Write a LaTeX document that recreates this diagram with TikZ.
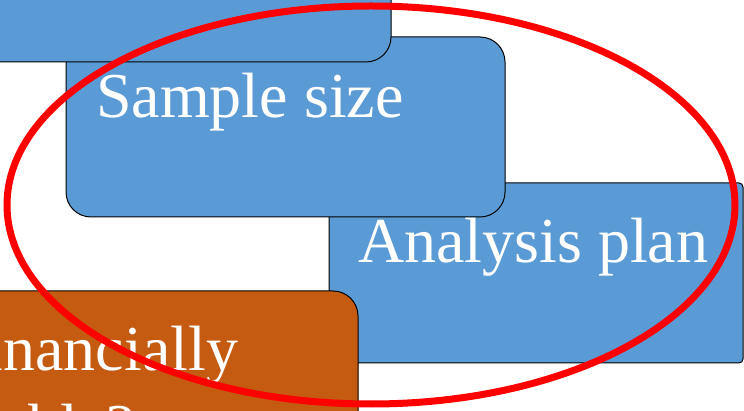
\documentclass[tikz,border=0pt]{standalone}
\usepackage{fontspec}
\setmainfont{Liberation Serif}
\usetikzlibrary{calc}
\definecolor{stepblue}{HTML}{5B9BD5}
\definecolor{steporange}{HTML}{C55A11}
\definecolor{ringred}{HTML}{FF0000}
\begin{document}
\begin{tikzpicture}[x=1pt,y=-1pt,
  stair/.style={draw=black, line width=1pt, rounded corners=25pt, inner sep=0pt,
    outer sep=0pt, anchor=north west, minimum width=439pt, minimum height=180pt},
  lbl/.style={text=white, font=\fontsize{64}{78}\selectfont, inner sep=0pt,
    anchor=base west, align=left}]
\useasboundingbox (0,0) rectangle (744,411);
\clip (0,0) rectangle (744,411);

% staircase of steps, lower ones first
\node[stair, fill=stepblue, minimum width=414pt, rounded corners=4pt] (analysis) at (329,183) {};
\node[stair, fill=stepblue] (sample) at (66,37) {};
\node[stair, fill=stepblue] (top) at (-48,-118) {};
\node[stair, fill=steporange] (finance) at (-81,291) {};

% step labels (base anchor of a two-line label sits on its last line)
\node[lbl] (sampletxt) at ($(sample.north west)+(30,81)$) {Sample size};
\node[lbl] (analysistxt) at ($(analysis.north west)+(29,80)$) {Analysis plan};
\node[lbl] (financetxt) at ($(finance.north west)+(31,157)$) {Financially\\viable?};

% highlight ring
\draw[ringred, line width=7pt] (371,205) ellipse [x radius=364, y radius=199];
\end{tikzpicture}
\end{document}
